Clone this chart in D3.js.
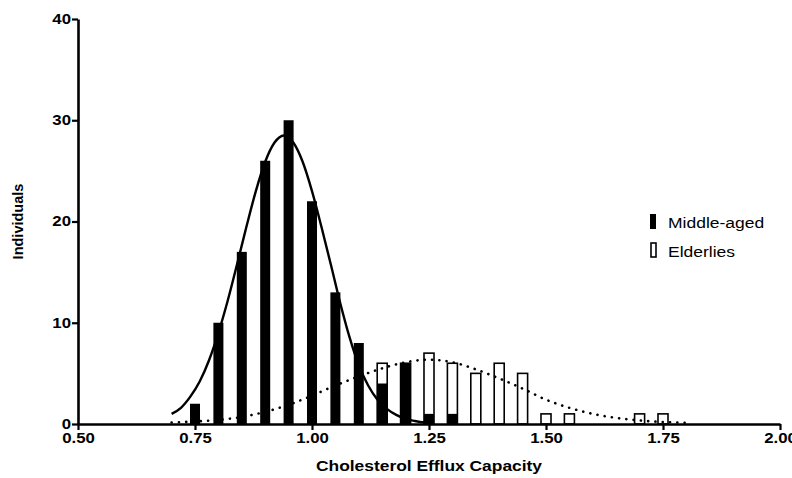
<!DOCTYPE html>
<html><head><meta charset="utf-8">
<script src="https://cdn.jsdelivr.net/npm/d3@7"></script>
<style>body{margin:0;background:#fff}svg{display:block}</style>
</head><body><svg id="c" width="792" height="478"></svg>
<script>
// bins (Cholesterol efflux capacity)
const middleBins = [0.75,0.80,0.85,0.90,0.95,1.00,1.05,1.10,1.15,1.20,1.25,1.30];
const middleCounts = [2,10,17,26,30,22,13,8,4,6,1,1];
const elderBins = [1.15,1.20,1.25,1.30,1.35,1.40,1.45,1.50,1.55,1.70,1.75];
const elderCounts = [6,6,7,6,5,6,5,1,1,1,1];
// fitted curves
const middleFitX = [0.70,0.72,0.74,0.76,0.78,0.80,0.82,0.84,0.86,0.88,0.90,0.92,0.94,0.96,0.98,1.00,1.02,1.04,1.06,1.08,1.10,1.12,1.14,1.16,1.18,1.20,1.22,1.24,1.26];
const middleFitY = [1.0,1.6,2.7,4.2,6.3,9.0,12.2,15.8,19.5,23.0,25.9,27.8,28.5,27.8,25.9,23.0,19.5,15.8,12.0,8.6,5.8,3.8,2.4,1.5,0.9,0.5,0.3,0.15,0.07];
const elderFitX = [0.70,0.75,0.80,0.85,0.90,0.95,1.00,1.05,1.10,1.15,1.20,1.25,1.30,1.35,1.40,1.45,1.50,1.55,1.60,1.65,1.70,1.75,1.80];
const elderFitY = [0.15,0.25,0.4,0.7,1.2,1.9,2.8,3.8,4.7,5.5,6.1,6.35,6.1,5.4,4.5,3.5,2.4,1.6,1.0,0.6,0.35,0.2,0.12];
const xTicks = [0.50,0.75,1.00,1.25,1.50,1.75,2.00];
const yTicks = [0,10,20,30,40];

const svg = d3.select("#c");
const m = {l:78, r:12, t:19, b:54};
const W = 792, H = 478;
const x = d3.scaleLinear().domain([0.5,2.0]).range([m.l, W-m.r]);
const y = d3.scaleLinear().domain([0,40]).range([H-m.b, m.t]);
const half = 0.0107;
const font = "'Liberation Sans', Arial, Helvetica, sans-serif";
const sx = 1.2; // horizontal text stretch

// white (Elderlies) bars
svg.append("g").selectAll("rect").data(elderBins.map((b,i)=>({b, v:elderCounts[i]}))).join("rect")
  .attr("x", d=>x(d.b-half)).attr("width", d=>x(d.b+half)-x(d.b-half))
  .attr("y", d=>y(d.v)).attr("height", d=>y(0)-y(d.v))
  .attr("fill","#fff").attr("stroke","#000").attr("stroke-width",1.6);
// black (Middle-aged) bars
svg.append("g").selectAll("rect").data(middleBins.map((b,i)=>({b, v:middleCounts[i]}))).join("rect")
  .attr("x", d=>x(d.b-half)).attr("width", d=>x(d.b+half)-x(d.b-half))
  .attr("y", d=>y(d.v)).attr("height", d=>y(0)-y(d.v))
  .attr("fill","#000");

svg.append("path").datum(middleFitX.map((v,i)=>[v,middleFitY[i]]))
  .attr("d", d3.line().curve(d3.curveMonotoneX).x(d=>x(d[0])).y(d=>y(d[1])))
  .attr("fill","none").attr("stroke","#000").attr("stroke-width",2.4);
svg.append("path").datum(elderFitX.map((v,i)=>[v,elderFitY[i]]))
  .attr("d", d3.line().curve(d3.curveMonotoneX).x(d=>x(d[0])).y(d=>y(d[1])))
  .attr("fill","none").attr("stroke","#000").attr("stroke-width",2.6)
  .attr("stroke-linecap","round").attr("stroke-dasharray","0.1,7.2");

// axes
const xa = svg.append("g").attr("transform",`translate(0,${y(0)})`)
  .call(d3.axisBottom(x).tickValues(xTicks).tickFormat(d3.format(".2f")).tickSize(6).tickSizeOuter(0));
const ya = svg.append("g").attr("transform",`translate(${m.l},0)`)
  .call(d3.axisLeft(y).tickValues(yTicks).tickSize(6).tickSizeOuter(0));
[xa,ya].forEach(a=>{
  a.select(".domain").attr("stroke-width",2.6);
  a.selectAll(".tick line").attr("stroke-width",2.2);
  a.selectAll("text").attr("font-family",font).attr("font-weight","bold").attr("font-size",14).attr("fill","#000")
    .attr("transform",`scale(${sx},1)`);
});
xa.selectAll("text").attr("dy","0.9em").attr("y",6);
ya.selectAll("text").attr("x",-7/sx);

const tx = (x(0.5)+x(2.0))/2;
svg.append("text").attr("transform",`translate(${tx},471) scale(${sx},1)`).attr("text-anchor","middle")
  .attr("font-family",font).attr("font-weight","bold").attr("font-size",14.5).text("Cholesterol Efflux Capacity");
svg.append("text").attr("transform",`translate(23,${(y(0)+y(40))/2}) rotate(-90)`).attr("text-anchor","middle")
  .attr("font-family",font).attr("font-weight","bold").attr("font-size",14.5).text("Individuals");

// legend
const lg = svg.append("g");
lg.append("rect").attr("x",650).attr("y",214).attr("width",6).attr("height",15).attr("fill","#000");
lg.append("rect").attr("x",651).attr("y",243).attr("width",5).attr("height",14).attr("fill","#fff").attr("stroke","#000").attr("stroke-width",1.6);
lg.append("text").attr("transform",`translate(668,228) scale(1.13,1)`).attr("font-family",font).attr("font-size",15.5).text("Middle-aged");
lg.append("text").attr("transform",`translate(668,257) scale(1.13,1)`).attr("font-family",font).attr("font-size",15.5).text("Elderlies");
</script></body></html>
